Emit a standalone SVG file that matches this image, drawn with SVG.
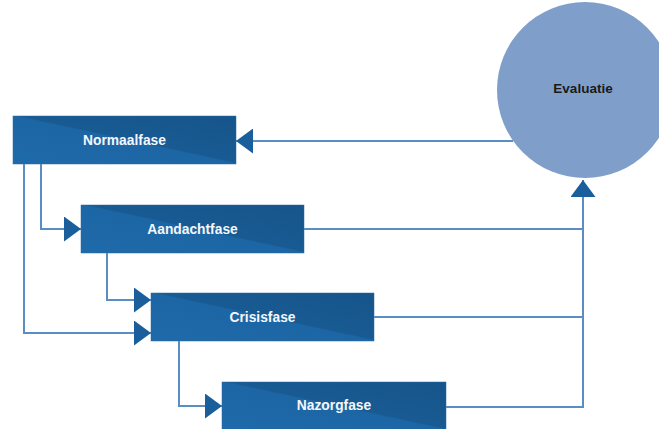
<svg xmlns="http://www.w3.org/2000/svg" width="659" height="429" viewBox="0 0 659 429">
  <style>
    .box { fill: url(#boxGrad); stroke: #2a6aa3; stroke-width: 0.5; }
    .lbl { font-family: "Liberation Sans", Arial, sans-serif; font-weight: bold; font-size: 13.8px; fill: #f4f7fb; text-anchor: middle; dominant-baseline: central; }
    .conn { fill: none; stroke: #5a8dc2; stroke-width: 2; }
  </style>
  <defs>
    <linearGradient id="boxGrad" x1="0" y1="1" x2="1" y2="0">
      <stop offset="0" stop-color="#1f6aaa"/>
      <stop offset="0.5" stop-color="#1d66a5"/>
      <stop offset="0.52" stop-color="#185a92"/>
      <stop offset="1" stop-color="#16558b"/>
    </linearGradient>
    <marker id="arr" viewBox="0 0 17 25" refX="17" refY="12.5" markerWidth="17" markerHeight="25" markerUnits="userSpaceOnUse" orient="auto">
      <path d="M0,0 L17,12.5 L0,25 z" fill="#1a5f9c"/>
    </marker>
  </defs>
  <rect width="659" height="429" fill="#ffffff"/>

  <g id="evaluatie">
    <circle cx="585" cy="90" r="88" fill="#7f9fca"/>
    <text x="583" y="88" font-family="Liberation Sans, Arial, sans-serif" font-weight="bold" font-size="13.5" fill="#1a1a1a" text-anchor="middle" dominant-baseline="central">Evaluatie</text>
  </g>
  <g id="normaalfase">
    <rect class="box" x="13" y="116" width="223" height="48"/>
    <text class="lbl" x="124.5" y="140">Normaalfase</text>
  </g>
  <g id="aandachtfase">
    <rect class="box" x="81" y="205" width="223" height="48"/>
    <text class="lbl" x="192.5" y="229">Aandachtfase</text>
  </g>
  <g id="crisisfase">
    <rect class="box" x="151" y="293" width="223" height="48"/>
    <text class="lbl" x="262.5" y="317">Crisisfase</text>
  </g>
  <g id="nazorgfase">
    <rect class="box" x="222" y="382" width="224" height="48"/>
    <text class="lbl" x="334" y="405">Nazorgfase</text>
  </g>

  <g id="connectors">
    <path class="conn" d="M513,141 H236" marker-end="url(#arr)"/>
    <path class="conn" d="M41,164 V229 H81" marker-end="url(#arr)"/>
    <path class="conn" d="M24,164 V333 H151" marker-end="url(#arr)"/>
    <path class="conn" d="M107,253 V300 H151" marker-end="url(#arr)"/>
    <path class="conn" d="M179,341 V406 H222" marker-end="url(#arr)"/>
    <path class="conn" d="M446,407 H583 V180" marker-end="url(#arr)"/>
    <path class="conn" d="M304,229 H583"/>
    <path class="conn" d="M374,317 H583"/>
  </g>
</svg>
